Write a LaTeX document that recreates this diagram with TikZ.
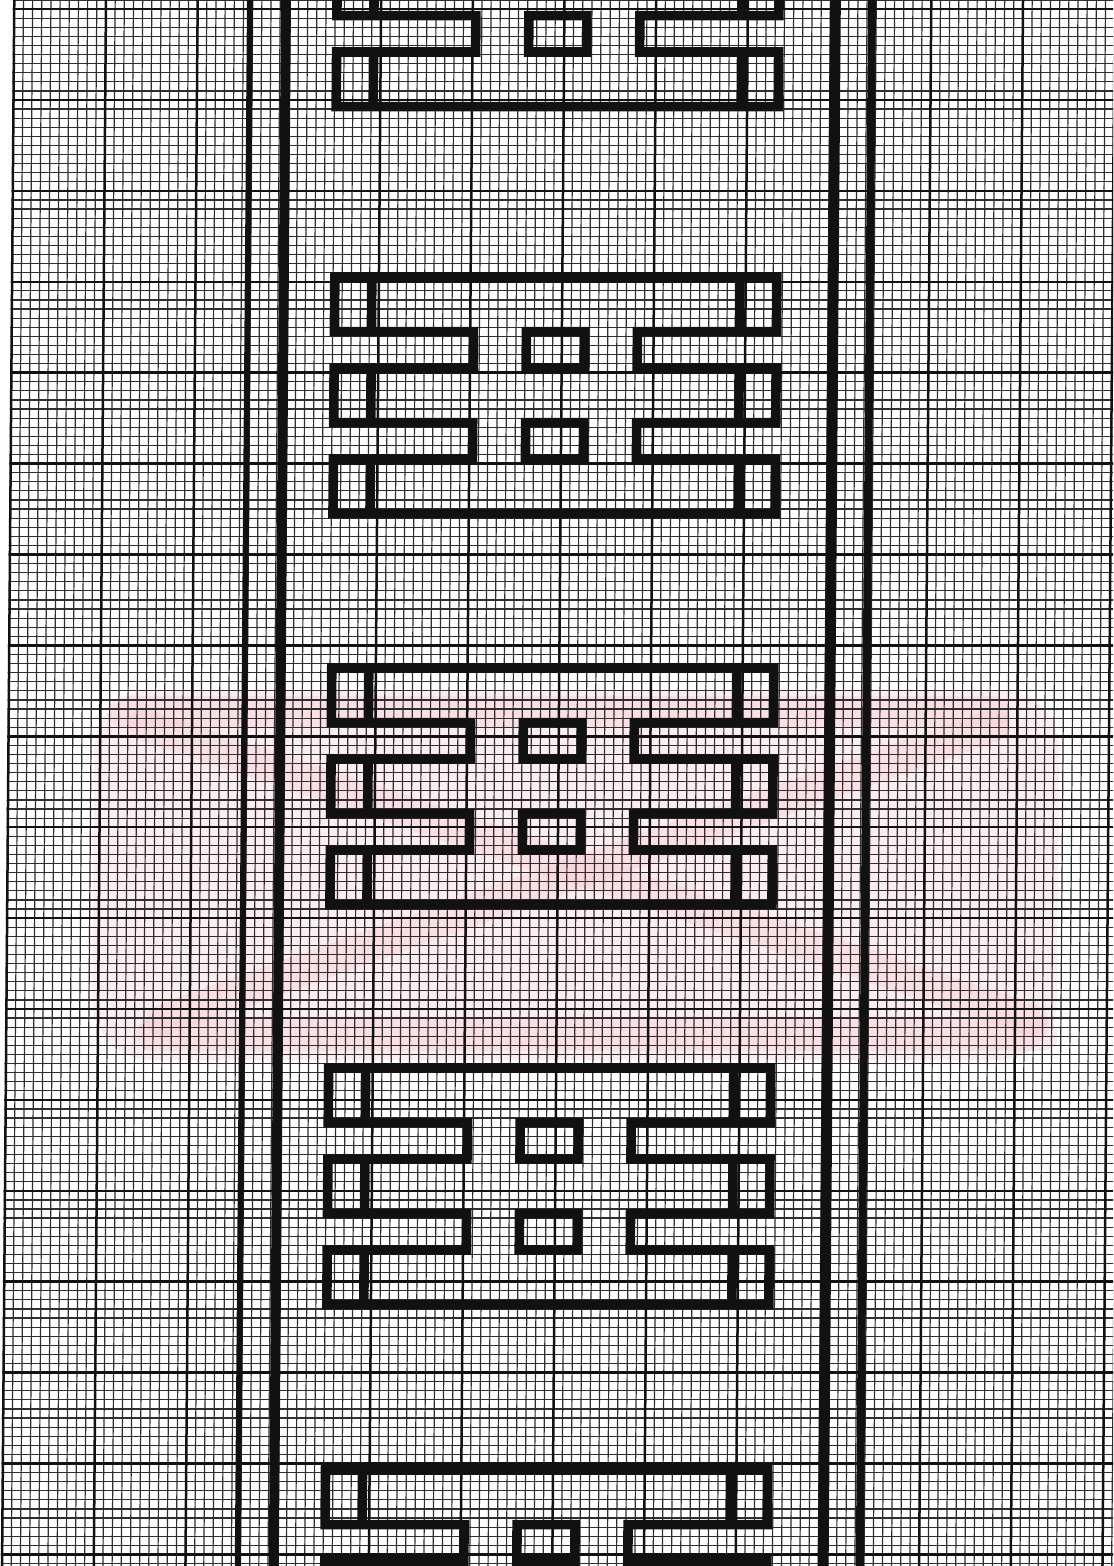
\documentclass[tikz,border=0pt]{standalone}
\usetikzlibrary{calc}
\definecolor{inkblk}{HTML}{111111}
\definecolor{gridgray}{HTML}{2E2E2E}
\definecolor{wmpink}{HTML}{F7CCD5}

\begin{document}
\begin{tikzpicture}[
  x={(0.5pt,0pt)}, y={(-0.0039pt,-0.5pt)},
  fine/.style={gridgray, line width=0.6pt},
  major/.style={inkblk, line width=1.25pt},
  band/.style={inkblk, line width=#1},
  fret/.style={inkblk, line width=4.8pt, line join=miter},
]

% Paper
\path[use as bounding box] (0pt,0pt) rectangle (556.5pt,-783pt);
\clip (0pt,0pt) rectangle (556.5pt,-783pt);
\fill[white] (0pt,0pt) rectangle (556.5pt,-783pt);

% Faint watermark
\fill[wmpink, opacity=0.35, rounded corners=30pt]
  (100,690) -- (1065,690) -- (1065,1060) -- (100,1060) -- cycle;
\begin{scope}[wmpink, opacity=0.4, line width=16pt, line cap=round]
  \draw (130,712) -- (1000,712);
  \draw (160,1035) -- (1050,1035);
  \draw (150,725) -- (1040,1020);
  \draw (1000,725) -- (170,1020);
\end{scope}

% === Graph paper ===
\begin{scope}
  \clip (13,0) -- (1140,0) -- (1140,1570) -- (13,1570) -- cycle;
  \foreach \i in {0,...,122}
    \draw[fine] ({14.3+9.17*\i},0) -- ({14.3+9.17*\i},1570);
  \foreach \j in {0,...,173}
    \draw[fine] (0,{0.01+9.09*\j}) -- (1140,{0.01+9.09*\j});
  \foreach \i in {0,...,12}
    \draw[major] ({14.3+91.7*\i},0) -- ({14.3+91.7*\i},1570);
  \foreach \j in {0,...,17}
    \draw[major] (0,{9.1+90.9*\j}) -- (1140,{9.1+90.9*\j});
\end{scope}

% Border lines of the strip
\draw[band=3pt] (250,-10) -- (250,1580);
\draw[band=5pt] (286,-10) -- (286,1580);
\draw[band=5pt] (835,-10) -- (835,1580);
\draw[band=4pt] (872,-10) -- (872,1580);

% === Fret motifs ===
\def\rA{54.6}
\def\rB{91}
\def\rC{145.6}
\def\rD{182}
\def\rE{236.6}
\foreach \t in {-130,277,668,1068,1470} {
  \begin{scope}[shift={(558,\t)}]
    % outline with notches
    \draw[fret] (-221,0) -- (221,0) -- (221,\rA) -- (82,\rA) -- (82,\rB)
      -- (221,\rB) -- (221,\rC) -- (82,\rC) -- (82,\rD) -- (221,\rD)
      -- (221,\rE) -- (-221,\rE) -- (-221,\rD) -- (-82,\rD) -- (-82,\rC)
      -- (-221,\rC) -- (-221,\rB) -- (-82,\rB) -- (-82,\rA) -- (-221,\rA)
      -- cycle;
    % end cells
    \foreach \s in {-1,1} {
      \draw[fret] (\s*184,0) -- (\s*184,\rA);
      \draw[fret] (\s*184,\rB) -- (\s*184,\rC);
      \draw[fret] (\s*184,\rD) -- (\s*184,\rE);
    }
    % small squares
    \draw[fret] (-29,\rA) -- (29,\rA) -- (29,\rB) -- (-29,\rB) -- cycle;
    \draw[fret] (-29,\rC) -- (29,\rC) -- (29,\rD) -- (-29,\rD) -- cycle;
  \end{scope}
}

\end{tikzpicture}
\end{document}
